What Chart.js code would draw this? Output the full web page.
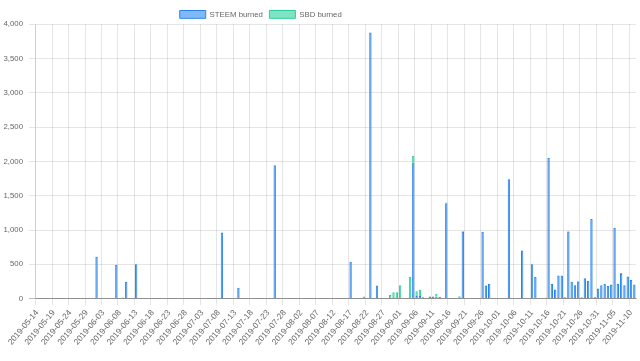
<!DOCTYPE html>
<html>
<head>
<meta charset="utf-8">
<style>
  html, body { margin: 0; padding: 0; background: #fff; }
  #wrap { width: 640px; height: 361px; position: relative; }
</style>
</head>
<body>
<div id="wrap"><canvas id="chart"></canvas></div>

<script src="https://cdn.jsdelivr.net/npm/chart.js@4.4.0/dist/chart.umd.min.js"></script>
<script>
  // one category per day, 2019-05-14 .. 2019-11-11
  const dates = [
    "2019-05-14","2019-05-15","2019-05-16","2019-05-17","2019-05-18","2019-05-19","2019-05-20","2019-05-21","2019-05-22",
    "2019-05-23","2019-05-24","2019-05-25","2019-05-26","2019-05-27","2019-05-28","2019-05-29","2019-05-30","2019-05-31",
    "2019-06-01","2019-06-02","2019-06-03","2019-06-04","2019-06-05","2019-06-06","2019-06-07","2019-06-08","2019-06-09","2019-06-10",
    "2019-06-11","2019-06-12","2019-06-13","2019-06-14","2019-06-15","2019-06-16","2019-06-17","2019-06-18","2019-06-19","2019-06-20",
    "2019-06-21","2019-06-22","2019-06-23","2019-06-24","2019-06-25","2019-06-26","2019-06-27","2019-06-28","2019-06-29","2019-06-30",
    "2019-07-01","2019-07-02","2019-07-03","2019-07-04","2019-07-05","2019-07-06","2019-07-07","2019-07-08","2019-07-09","2019-07-10",
    "2019-07-11","2019-07-12","2019-07-13","2019-07-14","2019-07-15","2019-07-16","2019-07-17","2019-07-18","2019-07-19","2019-07-20",
    "2019-07-21","2019-07-22","2019-07-23","2019-07-24","2019-07-25","2019-07-26","2019-07-27","2019-07-28","2019-07-29","2019-07-30","2019-07-31",
    "2019-08-01","2019-08-02","2019-08-03","2019-08-04","2019-08-05","2019-08-06","2019-08-07","2019-08-08","2019-08-09","2019-08-10",
    "2019-08-11","2019-08-12","2019-08-13","2019-08-14","2019-08-15","2019-08-16","2019-08-17","2019-08-18","2019-08-19","2019-08-20",
    "2019-08-21","2019-08-22","2019-08-23","2019-08-24","2019-08-25","2019-08-26","2019-08-27","2019-08-28","2019-08-29","2019-08-30","2019-08-31",
    "2019-09-01","2019-09-02","2019-09-03","2019-09-04","2019-09-05","2019-09-06","2019-09-07","2019-09-08","2019-09-09","2019-09-10",
    "2019-09-11","2019-09-12","2019-09-13","2019-09-14","2019-09-15","2019-09-16","2019-09-17","2019-09-18","2019-09-19","2019-09-20",
    "2019-09-21","2019-09-22","2019-09-23","2019-09-24","2019-09-25","2019-09-26","2019-09-27","2019-09-28","2019-09-29","2019-09-30",
    "2019-10-01","2019-10-02","2019-10-03","2019-10-04","2019-10-05","2019-10-06","2019-10-07","2019-10-08","2019-10-09","2019-10-10",
    "2019-10-11","2019-10-12","2019-10-13","2019-10-14","2019-10-15","2019-10-16","2019-10-17","2019-10-18","2019-10-19","2019-10-20",
    "2019-10-21","2019-10-22","2019-10-23","2019-10-24","2019-10-25","2019-10-26","2019-10-27","2019-10-28","2019-10-29","2019-10-30","2019-10-31",
    "2019-11-01","2019-11-02","2019-11-03","2019-11-04","2019-11-05","2019-11-06","2019-11-07","2019-11-08","2019-11-09","2019-11-10","2019-11-11"
  ]

  const steemBurned = [
    // may 14-31
    0,0,0,5,0,0,0,0,0,0,0,0,5,0,0,0,0,0,
    // jun
    610,0,5,0,0,0,495,0,15,245,0,0,500,0,0,0,0,0,0,0,0,0,0,0,0,0,0,0,0,0,
    // jul
    0,0,0,0,0,0,0,0,965,0,0,0,0,158,0,0,0,0,0,0,0,0,0,5,1945,0,0,0,0,0,0,
    // aug
    0,0,0,0,0,0,0,5,0,0,0,0,0,0,0,0,538,0,0,0,0,0,3880,0,192,0,0,0,0,0,0,
    // sep
    0,0,10,5,1980,38,38,20,5,30,30,30,25,5,1390,5,5,0,5,975,0,0,0,0,0,975,190,215,5,5,
    // oct
    5,5,5,1740,0,0,0,700,0,0,500,313,0,0,0,2050,215,132,335,335,20,980,245,196,250,20,298,260,1160,10,147,
    // nov 1-11
    196,216,182,200,1030,216,360,196,323,270,206
  ]

  const sbdBurned = [
    // may 14-31
    0,0,0,0,0,0,0,0,0,0,0,0,0,0,0,0,0,0,
    // jun
    0,0,0,0,0,0,0,0,0,0,0,0,0,0,0,0,0,0,0,0,0,0,0,0,0,0,0,0,0,0,
    // jul
    0,0,0,5,0,0,0,0,0,0,0,0,0,0,0,5,0,0,0,0,0,0,0,0,0,0,5,0,0,0,0,
    // aug
    0,0,0,0,0,0,0,0,0,0,0,0,0,0,0,0,0,0,0,0,30,0,0,0,0,0,0,0,54,94,94,
    // sep
    196,0,0,315,100,70,90,5,0,0,0,40,0,0,10,0,0,10,30,10,0,10,10,10,10,0,0,0,0,0,
    // oct
    0,0,0,0,5,5,5,0,5,5,0,0,5,5,5,0,0,0,0,0,0,10,0,0,10,0,0,0,0,15,0,
    // nov 1-11
    0,0,0,10,0,0,12,0,0,0,0
  ]

  const yTicks = { min: 0, max: 4000, step: 500 }

  Chart.defaults.font.family = "'Liberation Sans', Arial, sans-serif"
  Chart.defaults.font.size = 7.8
  Chart.defaults.color = '#666'

  // the legend sits left of centre in the original, nudge it there
  const legendNudge = {
    id: 'legendNudge',
    afterLayout(chart) {
      chart.legend.left -= 56
      chart.legend.right -= 56
      chart.legend.top += 4
      chart.legend.bottom += 4
    }
  }

  const shown = i => i % 5 === 0

  const ctx = document.getElementById('chart').getContext('2d')
  new Chart(ctx, {
    type: 'bar',
    data: {
      labels: dates,
      datasets: [{
        label: 'STEEM burned',
        data: steemBurned,
        backgroundColor: 'rgba(45,137,240,0.6)',
        borderColor: 'rgb(40,132,232)',
        borderWidth: 1
      }, {
        label: 'SBD burned',
        data: sbdBurned,
        backgroundColor: 'rgba(43,210,157,0.6)',
        borderColor: 'rgb(43,206,153)',
        borderWidth: 1
      }]
    },
    options: {
      responsive: true,
      maintainAspectRatio: false,
      animation: false,
      layout: { padding: { left: -2.5, right: 4, top: 0, bottom: 11 } },
      plugins: {
        legend: {
          maxHeight: 25,
          labels: { boxWidth: 26, boxHeight: 7.8, padding: 6.5 }
        },
        tooltip: { enabled: false }
      },
      scales: {
        x: {
          stacked: true,
          border: { color: 'rgba(0,0,0,0.25)' },
          grid: {
            offset: true,
            tickLength: 6.5,
            color: c => (shown(c.index) ? 'rgba(0,0,0,0.1)' : 'rgba(0,0,0,0)')
          },
          ticks: {
            autoSkip: false,
            minRotation: 50,
            maxRotation: 50,
            font: c => ({ size: shown(c.index) ? 8.3 : 1 }),
            callback: function (value, index) {
              return shown(index) ? this.getLabelForValue(value) : ''
            }
          }
        },
        y: {
          stacked: true,
          min: yTicks.min,
          max: yTicks.max,
          border: { color: 'rgba(0,0,0,0.1)' },
          grid: {
            tickLength: 6.5,
            color: c => (c.tick && c.tick.value === 0 ? 'rgba(0,0,0,0.25)' : 'rgba(0,0,0,0.1)')
          },
          ticks: { stepSize: yTicks.step, padding: 6 }
        }
      }
    },
    plugins: [legendNudge]
  })
</script>
</body>
</html>
